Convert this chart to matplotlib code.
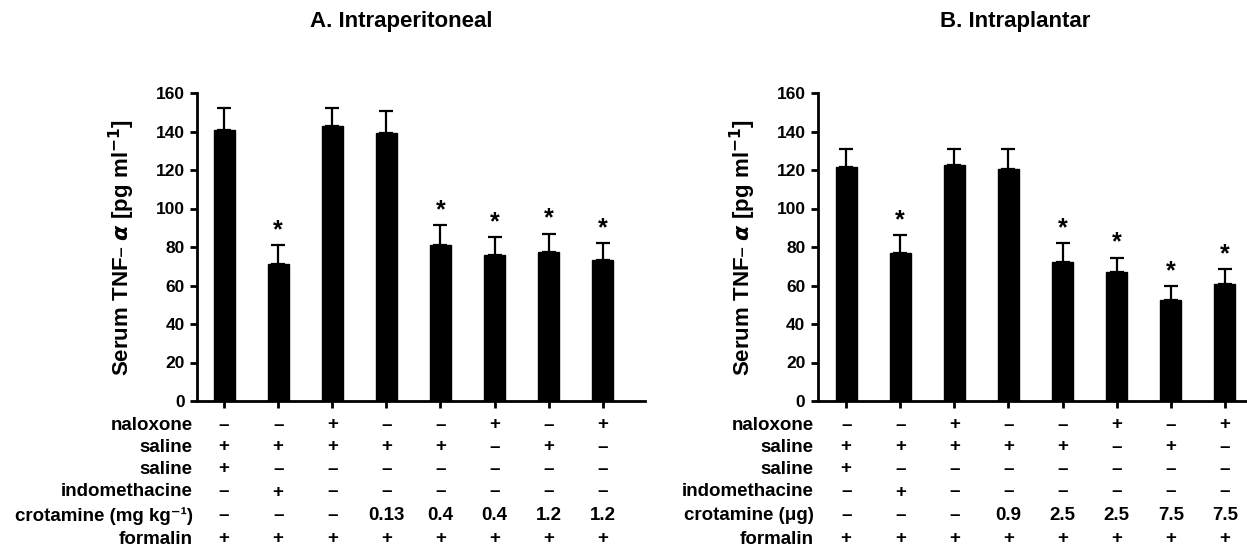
import matplotlib
matplotlib.use("Agg")
import matplotlib.pyplot as plt

plt.rcParams['font.family'] = ['Liberation Sans', 'DejaVu Sans']
plt.rcParams['font.weight'] = 'bold'
plt.rcParams['mathtext.fontset'] = 'dejavusans'

# ---- data ----
ip_means = [141, 71, 143, 139, 81, 76, 77.5, 73]
ip_errs = [11, 10, 9, 11.5, 10.5, 9, 9.5, 9]
ip_sig = [False, True, False, False, True, True, True, True]

pl_means = [121.5, 77, 122.5, 120.5, 72, 67, 52.5, 61]
pl_errs = [9.5, 9, 8.5, 10.5, 10, 7.5, 7, 7.5]
pl_sig = [False, True, False, False, True, True, True, True]

row_labels_ip = ["naloxone", "saline", "saline", "indomethacine", "crotamine (mg kg⁻¹)", "formalin"]
row_labels_pl = ["naloxone", "saline", "saline", "indomethacine", "crotamine (μg)", "formalin"]

naloxone = ["–", "–", "+", "–", "–", "+", "–", "+"]
saline1 = ["+", "+", "+", "+", "+", "–", "+", "–"]
saline2 = ["+", "–", "–", "–", "–", "–", "–", "–"]
indometh = ["–", "+", "–", "–", "–", "–", "–", "–"]
crot_ip = ["–", "–", "–", "0.13", "0.4", "0.4", "1.2", "1.2"]
crot_pl = ["–", "–", "–", "0.9", "2.5", "2.5", "7.5", "7.5"]
formalin = ["+", "+", "+", "+", "+", "+", "+", "+"]

yticks = [0, 20, 40, 60, 80, 100, 120, 140, 160]

W, H = 1247, 549
fig = plt.figure(figsize=(W / 100, H / 100), dpi=100)

ax1 = fig.add_axes([197 / W, 148 / H, 448 / W, 308 / H])
ax2 = fig.add_axes([818 / W, 148 / H, 428 / W, 308 / H])

row_y_px = [425, 447, 469, 492, 516, 539]


def draw(ax, means, errs, sig, xlim, title, title_x, rows, labels):
    x = list(range(len(means)))
    ax.bar(x, means, width=0.39, color='black', edgecolor='black', zorder=2)
    ax.errorbar(x, means, yerr=[[0] * len(errs), errs], fmt='none', ecolor='black',
                elinewidth=1.6, capsize=5, capthick=1.6, zorder=1)
    for xi, m, e, s in zip(x, means, errs, sig):
        if s:
            ax.annotate("*", (xi, m + e), xytext=(0, 2), textcoords='offset points',
                        ha='center', va='bottom', fontsize=18, fontweight='bold')
    ax.set_xlim(*xlim)
    ax.set_ylim(0, 160)
    ax.set_yticks(yticks)
    ax.set_yticklabels([str(v) for v in yticks], fontsize=12.5, fontweight='bold')
    ax.set_xticks(x)
    ax.set_xticklabels([])
    ax.spines['top'].set_visible(False)
    ax.spines['right'].set_visible(False)
    ax.spines['left'].set_linewidth(2)
    ax.spines['bottom'].set_linewidth(2)
    ax.tick_params(axis='both', direction='out', length=5, width=2, pad=4)
    ax.set_ylabel("Serum TNF– $\\alpha$ [pg ml$^{-1}$]", fontsize=16, fontweight='bold', labelpad=13)
    fig.text(title_x / W, 1 - 22 / H, title, ha='center', va='center', fontsize=16, fontweight='bold')
    # treatment table
    for lab, vals, ypx in zip(labels, rows, row_y_px):
        yf = 1 - ypx / H
        ax.annotate(lab, xy=(0, yf), xycoords=('axes fraction', 'figure fraction'),
                    xytext=(-3, 0), textcoords='offset points',
                    ha='right', va='center', fontsize=13.5, fontweight='bold')
        for xi, v in zip(x, vals):
            ax.annotate(v, xy=(xi, yf), xycoords=('data', 'figure fraction'),
                        ha='center', va='center', fontsize=13.5, fontweight='bold')


draw(ax1, ip_means, ip_errs, ip_sig, (-0.5, 7.78), "A. Intraperitoneal", 401,
     [naloxone, saline1, saline2, indometh, crot_ip, formalin], row_labels_ip)
draw(ax2, pl_means, pl_errs, pl_sig, (-0.52, 7.39), "B. Intraplantar", 1015,
     [naloxone, saline1, saline2, indometh, crot_pl, formalin], row_labels_pl)

fig.savefig("out.png", dpi=100)
